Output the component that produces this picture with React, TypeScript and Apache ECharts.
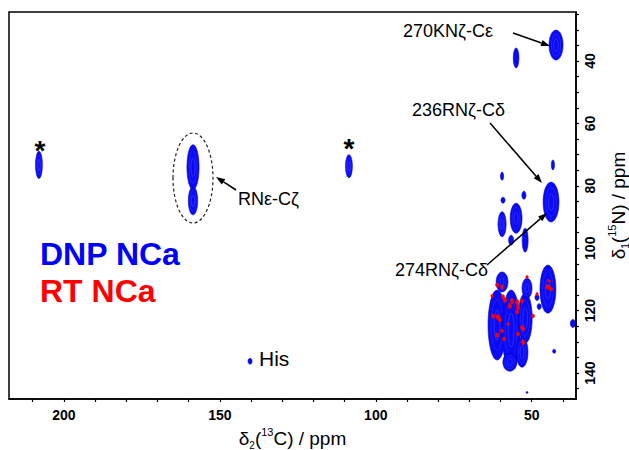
import React, { useEffect, useRef } from "react";
import * as echarts from "echarts";

// Axis extents (ppm) and ticks
const xRange = [35.8, 217.6];
const yRange = [24.3, 148.3];
const xTicks = [40, 50, 60, 70, 80, 90, 100, 110, 120, 130, 140, 150, 160, 170, 180, 190, 200, 210];
const xLabels = [50, 100, 150, 200];
const yTicks = [25, 30, 35, 40, 45, 50, 55, 60, 65, 70, 75, 80, 85, 90, 95, 100, 105, 110, 115, 120, 125, 130, 135, 140, 145];
const yLabels = [40, 60, 80, 100, 120, 140];

// DNP NCa peaks: [13C ppm, 15N ppm, width ppm, height ppm]
const dnpPeaks = [
  [42.2, 34.9, 4.5, 9.6],
  [55.0, 39.0, 1.8, 6.4],
  [43.8, 85.2, 5.1, 12.8],
  [43.2, 73.3, 1.0, 3.2],
  [158.6, 74.0, 3.9, 14.4],
  [158.6, 84.8, 3.0, 9.0],
  [208.0, 73.3, 2.2, 8.7],
  [108.6, 73.7, 2.2, 7.4],
  [140.3, 136.2, 1.3, 1.9],
  [59.5, 76.9, 1.0, 2.6],
  [52.5, 83.0, 1.3, 2.6],
  [59.2, 84.6, 1.3, 1.9],
  [59.5, 92.3, 2.6, 8.0],
  [55.0, 90.4, 3.8, 9.6],
  [52.1, 97.4, 1.9, 7.7],
  [56.6, 97.4, 1.6, 3.2],
  [61.1, 124.6, 5.8, 22.4],
  [59.5, 110.8, 3.8, 6.4],
  [56.6, 126.2, 5.8, 25.6],
  [52.1, 122.4, 4.5, 16.0],
  [51.5, 112.8, 3.2, 6.4],
  [53.1, 133.3, 3.8, 9.6],
  [57.0, 136.5, 4.5, 5.8],
  [44.8, 113.1, 5.1, 15.4],
  [48.3, 115.8, 1.3, 1.9],
  [47.6, 118.7, 1.3, 1.9],
  [42.8, 133.0, 1.0, 1.3],
  [36.8, 124.1, 1.6, 2.6],
  [51.5, 146.2, 0.6, 0.6],
];

// RT NCa peaks: [13C ppm, 15N ppm, width ppm, height ppm]
const rtPeaks = [
  [51.5, 109.2, 0.8, 1.0],
  [61.1, 111.8, 1.0, 1.3],
  [59.5, 112.4, 1.0, 1.4],
  [44.4, 110.5, 0.8, 1.0],
  [44.8, 112.4, 1.3, 1.6],
  [43.8, 113.1, 1.0, 1.3],
  [62.7, 115.3, 0.8, 1.0],
  [59.2, 115.6, 1.0, 1.5],
  [58.6, 116.6, 1.0, 1.5],
  [56.3, 116.9, 1.0, 1.8],
  [54.7, 117.2, 1.0, 1.8],
  [53.1, 116.9, 1.0, 1.3],
  [48.3, 114.7, 0.8, 1.0],
  [57.0, 118.5, 1.0, 1.8],
  [54.4, 118.9, 1.0, 1.8],
  [54.7, 120.4, 1.0, 1.3],
  [62.4, 121.7, 1.0, 1.3],
  [60.8, 122.1, 1.3, 1.8],
  [60.2, 123.0, 1.0, 1.3],
  [49.6, 121.7, 1.0, 1.3],
  [57.6, 124.3, 0.8, 1.0],
  [53.1, 125.3, 1.0, 1.3],
  [52.8, 125.9, 1.0, 1.3],
  [59.5, 126.5, 1.0, 1.3],
  [61.1, 127.8, 1.0, 1.5],
  [54.4, 127.5, 1.0, 1.3],
  [58.9, 129.1, 1.0, 1.3],
  [52.8, 130.1, 1.0, 1.8],
];

const FONT = "'Liberation Sans', Arial, Helvetica, sans-serif";
const BLUE = "#0a0af5";
const RED = "#ff0000";

function arrow(x1: number, y1: number, x2: number, y2: number) {
  const dx = x2 - x1, dy = y2 - y1;
  const len = Math.sqrt(dx * dx + dy * dy);
  const ux = dx / len, uy = dy / len;
  const hl = 9, hw = 3.2;
  const bx = x2 - ux * hl, by = y2 - uy * hl;
  return [
    { type: "line", z: 100, shape: { x1, y1, x2: bx, y2: by }, style: { stroke: "#000", lineWidth: 1.5 } },
    {
      type: "polygon", z: 100,
      shape: { points: [[x2, y2], [bx - uy * hw, by + ux * hw], [bx + uy * hw, by - ux * hw]] },
      style: { fill: "#000" },
    },
  ];
}

function makeRender(color: string, detailed: boolean) {
  return function (params: any, api: any) {
    const x = api.value(0), y = api.value(1), wx = api.value(2), wy = api.value(3);
    const c = api.coord([x, y]);
    const s = api.size([wx, wy]);
    const rx = Math.max(s[0] / 2, 0.8), ry = Math.max(s[1] / 2, 0.8);
    const children: any[] = [
      { type: "ellipse", shape: { cx: c[0], cy: c[1], rx, ry }, style: { fill: color, stroke: detailed ? "#0000c8" : color, lineWidth: 0.6 } },
    ];
    if (detailed && rx > 3) {
      children.push({ type: "ellipse", shape: { cx: c[0], cy: c[1], rx: rx * 0.66, ry: ry * 0.72 }, style: { fill: "none", stroke: "#3434ff", lineWidth: 0.5 } });
      children.push({ type: "ellipse", shape: { cx: c[0], cy: c[1], rx: rx * 0.33, ry: ry * 0.42 }, style: { fill: "none", stroke: "#5050ff", lineWidth: 0.5 } });
    }
    return { type: "group", children };
  };
}

export default function App() {
  const ref = useRef<HTMLDivElement>(null);
  useEffect(() => {
    if (!ref.current) return;
    const chart = echarts.init(ref.current, null, { renderer: "svg" });
    const nameRich = {
      a: { fontSize: 19, fontFamily: FONT, color: "#000", lineHeight: 24 },
      s: { fontSize: 10, fontFamily: FONT, color: "#000", verticalAlign: "bottom", lineHeight: 10 },
      p: { fontSize: 11, fontFamily: FONT, color: "#000", verticalAlign: "top", lineHeight: 14 },
    };
    const option: any = {
      animation: false,
      backgroundColor: "#fff",
      grid: { left: 9, right: 53, top: 12, bottom: 51, show: true, borderColor: "#000", borderWidth: 1.5, outerBoundsMode: "none" },
      xAxis: {
        type: "value", min: xRange[0], max: xRange[1], inverse: true,
        splitLine: { show: false },
        axisLine: { show: true, onZero: false, lineStyle: { color: "#000", width: 1.5 } },
        axisTick: { show: true, customValues: xTicks, length: 3, lineStyle: { color: "#000", width: 1.2 } },
        axisLabel: { customValues: xLabels, fontSize: 14, fontWeight: "bold", color: "#000", fontFamily: FONT, margin: 9 },
        name: "{a|δ}{s|2}{a|(}{p|13}{a|C) / ppm}",
        nameLocation: "middle", nameGap: 26,
        nameTextStyle: { fontSize: 19, fontFamily: FONT, color: "#000", rich: nameRich },
      },
      yAxis: {
        type: "value", min: yRange[0], max: yRange[1], inverse: true, position: "right",
        splitLine: { show: false },
        axisLine: { show: true, onZero: false, lineStyle: { color: "#000", width: 1.5 } },
        axisTick: { show: true, customValues: yTicks, length: 3, lineStyle: { color: "#000", width: 1.2 } },
        axisLabel: { customValues: yLabels, rotate: 90, fontSize: 14, fontWeight: "bold", color: "#000", fontFamily: FONT, margin: 7 },
        name: "{a|δ}{s|1}{a|(}{p|15}{a|N) / ppm}",
        nameLocation: "middle", nameGap: 30, nameRotate: 90,
        nameTextStyle: { fontSize: 19, fontFamily: FONT, color: "#000", rich: nameRich },
      },
      series: [
        { type: "custom", name: "DNP NCa", data: dnpPeaks, renderItem: makeRender(BLUE, true), encode: { x: 0, y: 1 }, clip: true, z: 2 },
        { type: "custom", name: "RT NCa", data: rtPeaks, renderItem: makeRender(RED, false), encode: { x: 0, y: 1 }, clip: true, z: 3 },
      ],
      graphic: [
        { type: "text", z: 100, x: 40, y: 254, style: { text: "DNP NCa", font: `bold 32px ${FONT}`, fill: "#0000ff", verticalAlign: "middle" } },
        { type: "text", z: 100, x: 40, y: 291, style: { text: "RT NCa", font: `bold 32px ${FONT}`, fill: RED, verticalAlign: "middle" } },
        { type: "text", z: 100, x: 403, y: 31, style: { text: "270KNζ-Cε", font: `18px ${FONT}`, fill: "#000", verticalAlign: "middle" } },
        { type: "text", z: 100, x: 412, y: 110, style: { text: "236RNζ-Cδ", font: `18px ${FONT}`, fill: "#000", verticalAlign: "middle" } },
        { type: "text", z: 100, x: 395, y: 270, style: { text: "274RNζ-Cδ", font: `18px ${FONT}`, fill: "#000", verticalAlign: "middle" } },
        { type: "text", z: 100, x: 238, y: 199, style: { text: "RNε-Cζ", font: `18px ${FONT}`, fill: "#000", verticalAlign: "middle" } },
        { type: "text", z: 100, x: 259, y: 358, style: { text: "His", font: `21px ${FONT}`, fill: "#000", verticalAlign: "middle" } },
        { type: "text", z: 100, x: 40, y: 150, style: { text: "*", font: `bold 28px ${FONT}`, fill: "#000", align: "center", verticalAlign: "middle" } },
        { type: "text", z: 100, x: 349, y: 148, style: { text: "*", font: `bold 28px ${FONT}`, fill: "#000", align: "center", verticalAlign: "middle" } },
        { type: "ellipse", z: 100, shape: { cx: 193, cy: 178, rx: 20, ry: 45 }, style: { fill: "none", stroke: "#222", lineWidth: 1.2, lineDash: [3, 2.5] } },
        ...arrow(513, 33, 550, 46),
        ...arrow(490, 123, 542, 183),
        ...arrow(487, 265, 547, 213),
        ...arrow(236, 190, 216, 177),
      ],
    };
    chart.setOption(option);
    return () => chart.dispose();
  }, []);
  return <div ref={ref} style={{ position: "fixed", left: 0, top: 0, width: 629, height: 450 }} />;
}
